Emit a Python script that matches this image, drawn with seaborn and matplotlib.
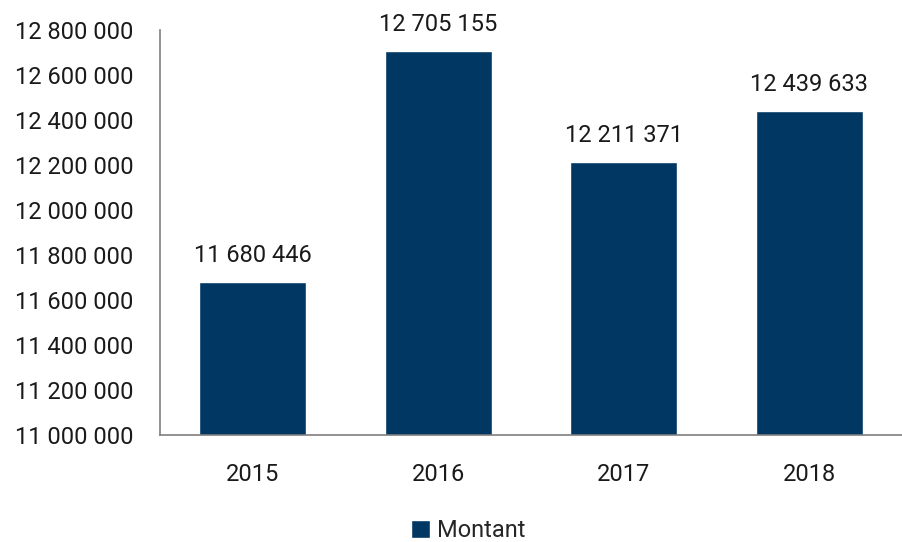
import matplotlib
matplotlib.use("Agg")
import seaborn as sns
import matplotlib.pyplot as plt
import matplotlib.ticker as mticker
import pandas as pd

years = ["2015", "2016", "2017", "2018"]
montants = [11680446, 12705155, 12211371, 12439633]
series_name = "Montant"
bar_color = "#003763"

def fmt_space(v, pos=None):
    return f"{int(v):,}".replace(",", " ")

df = pd.DataFrame({"year": years, "value": montants, "serie": series_name})

sns.set_style("white")
plt.rcParams["font.family"] = ["Roboto", "DejaVu Sans"]

fig = plt.figure(figsize=(9.03, 5.42), dpi=100)
ax = fig.add_axes([0.177, 0.197, 0.822, 0.748])

sns.barplot(data=df, x="year", y="value", hue="serie", palette=[bar_color],
            width=0.575, ax=ax, legend=True, saturation=1)

ax.set_ylim(11000000, 12800000)
ax.yaxis.set_major_locator(mticker.MultipleLocator(200000))
ax.yaxis.set_major_formatter(mticker.FuncFormatter(fmt_space))
ax.set_xlabel("")
ax.set_ylabel("")
ax.tick_params(axis="both", labelsize=17, colors="#1a1a1a", length=0)
ax.tick_params(axis="y", pad=19)
ax.tick_params(axis="x", pad=20)

for s in ["top", "right"]:
    ax.spines[s].set_visible(False)
for s in ["left", "bottom"]:
    ax.spines[s].set_color("#7f7f7f")
    ax.spines[s].set_linewidth(1.2)

for c in ax.containers:
    ax.bar_label(c, labels=[fmt_space(v) for v in montants], padding=11,
                 fontsize=17, color="#1a1a1a")

ax.legend(loc="center", bbox_to_anchor=(0.415, -0.235), frameon=False,
          fontsize=17, handlelength=0.8, handleheight=0.8, handletextpad=0.3)

fig.savefig("out.png", dpi=100)
